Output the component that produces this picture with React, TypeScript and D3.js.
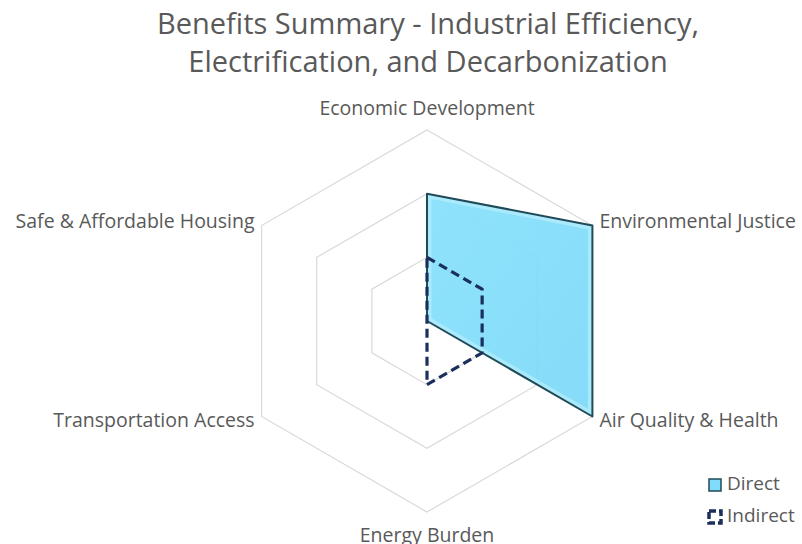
import React, { useEffect, useRef } from 'react';
import * as d3 from 'd3';

const axes = [
  'Economic Development',
  'Environmental Justice',
  'Air Quality & Health',
  'Energy Burden',
  'Transportation Access',
  'Safe & Affordable Housing',
];
const direct = [2, 3, 3, 0, 0, 0];
const indirect = [1, 1, 1, 1, 0, 0];
const ringLevels = [1, 2, 3];
const titleLines = [
  'Benefits Summary - Industrial Efficiency,',
  'Electrification, and Decarbonization',
];
const legendItems = ['Direct', 'Indirect'];

export default function App() {
  const svgRef = useRef<SVGSVGElement | null>(null);

  useEffect(() => {
    if (!svgRef.current) return;
    const width = 802;
    const height = 544;
    const cx = 427;
    const cy = 321;
    const R = 191;
    const font = "'Open Sans', sans-serif";
    const grey = '#595959';

    const svg = d3.select(svgRef.current);
    svg.selectAll('*').remove();
    svg.attr('width', width).attr('height', height);

    svg.append('rect').attr('width', width).attr('height', height).attr('fill', '#fff');

    // Title
    svg.append('g')
      .selectAll('text')
      .data(titleLines)
      .enter()
      .append('text')
      .attr('x', 428)
      .attr('y', (d, i) => 33.5 + i * 38.5)
      .attr('text-anchor', 'middle')
      .attr('font-family', font)
      .attr('font-size', '29px')
      .attr('fill', grey)
      .text(d => d);

    const r = d3.scaleLinear().domain([0, 3]).range([0, R]);
    const angle = d3.scaleLinear().domain([0, axes.length]).range([0, 2 * Math.PI]);

    const g = svg.append('g').attr('transform', `translate(${cx},${cy})`);

    const radial = d3.lineRadial<number>()
      .angle((d, i) => angle(i))
      .radius(d => r(d))
      .curve(d3.curveLinearClosed);

    // Grid rings
    g.selectAll('.ring')
      .data(ringLevels)
      .enter()
      .append('path')
      .attr('class', 'ring')
      .attr('d', lvl => radial(axes.map(() => lvl)))
      .attr('fill', 'none')
      .attr('stroke', '#d9d9d9')
      .attr('stroke-width', 1.2);

    // Direct series with a bevel look
    const defs = svg.append('defs');
    defs.append('clipPath').attr('id', 'directClip')
      .append('path').attr('d', radial(direct));
    const grad = defs.append('linearGradient').attr('id', 'directFill')
      .attr('x1', 0).attr('y1', 0).attr('x2', 1).attr('y2', 1);
    grad.append('stop').attr('offset', '0%').attr('stop-color', '#86e0fb');
    grad.append('stop').attr('offset', '100%').attr('stop-color', '#7cd9f8');

    g.append('path')
      .attr('d', radial(direct))
      .attr('fill', 'url(#directFill)')
      .attr('fill-opacity', 0.93);
    g.append('path')
      .attr('d', radial(direct))
      .attr('clip-path', 'url(#directClip)')
      .attr('fill', 'none')
      .attr('stroke', '#b8eefc')
      .attr('stroke-opacity', 0.7)
      .attr('stroke-width', 9);
    g.append('path')
      .attr('d', radial(direct))
      .attr('fill', 'none')
      .attr('stroke', '#1f4a57')
      .attr('stroke-width', 2)
      .attr('stroke-linejoin', 'round');

    // Indirect series
    g.append('path')
      .attr('d', radial(indirect))
      .attr('fill', 'none')
      .attr('stroke', '#1b2f5c')
      .attr('stroke-width', 3.2)
      .attr('stroke-dasharray', '9,5')
      .attr('stroke-linejoin', 'round');

    // Axis labels
    const labelPos = (i: number) => {
      const a = angle(i);
      const x = Math.sin(a) * R;
      const y = -Math.cos(a) * R;
      if (i === 0) return { x, y: y - 15, anchor: 'middle' };
      if (i === 3) return { x, y: y + 29.5, anchor: 'middle' };
      const right = x > 0;
      return { x: x + (right ? 7 : -7), y: y + (y < 0 ? 2.5 : 10.5), anchor: right ? 'start' : 'end' };
    };
    g.selectAll('.axis-label')
      .data(axes)
      .enter()
      .append('text')
      .attr('class', 'axis-label')
      .attr('x', (d, i) => labelPos(i).x)
      .attr('y', (d, i) => labelPos(i).y)
      .attr('text-anchor', (d, i) => labelPos(i).anchor)
      .attr('font-family', font)
      .attr('font-size', '19.5px')
      .attr('fill', grey)
      .text(d => d);

    // Legend
    const legend = svg.append('g').attr('transform', 'translate(708,478)');
    const item = legend.selectAll('.item')
      .data(legendItems)
      .enter()
      .append('g')
      .attr('class', 'item')
      .attr('transform', (d, i) => `translate(0,${i * 32})`);
    item.append('rect')
      .attr('x', 1)
      .attr('y', 1)
      .attr('width', 12)
      .attr('height', 12)
      .attr('fill', (d, i) => (i === 0 ? '#80dcfa' : 'none'))
      .attr('stroke', (d, i) => (i === 0 ? '#1f4a57' : '#1b2f5c'))
      .attr('stroke-width', (d, i) => (i === 0 ? 1.5 : 3.5))
      .attr('stroke-dasharray', (d, i) => (i === 0 ? null : '7,3'));
    item.append('text')
      .attr('x', 19)
      .attr('y', 12)
      .attr('font-family', font)
      .attr('font-size', '19px')
      .attr('fill', grey)
      .text(d => d);
  }, []);

  return (
    <div style={{ position: 'absolute', left: 0, top: 0 }}>
      <svg ref={svgRef} style={{ display: 'block' }} />
    </div>
  );
}
